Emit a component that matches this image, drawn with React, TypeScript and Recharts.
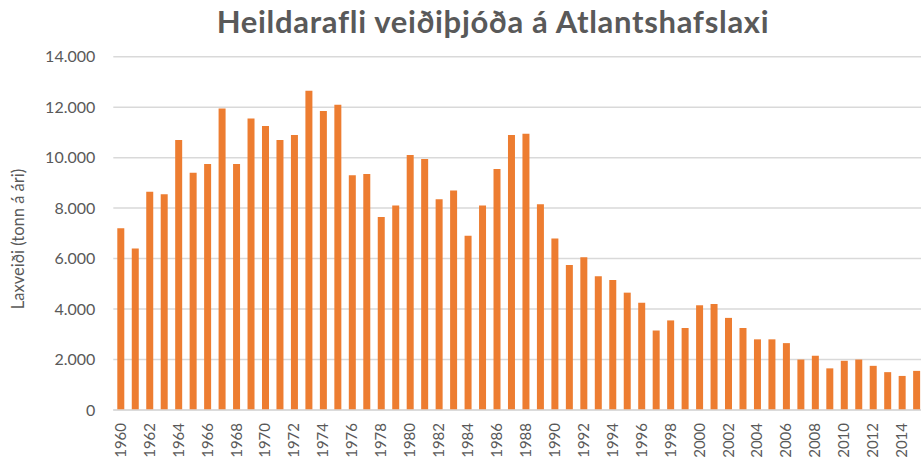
import React from 'react';
import { BarChart, Bar, XAxis, YAxis, CartesianGrid } from 'recharts';

const years: number[] = [
  1960, 1961, 1962, 1963, 1964, 1965, 1966, 1967, 1968, 1969,
  1970, 1971, 1972, 1973, 1974, 1975, 1976, 1977, 1978, 1979,
  1980, 1981, 1982, 1983, 1984, 1985, 1986, 1987, 1988, 1989,
  1990, 1991, 1992, 1993, 1994, 1995, 1996, 1997, 1998, 1999,
  2000, 2001, 2002, 2003, 2004, 2005, 2006, 2007, 2008, 2009,
  2010, 2011, 2012, 2013, 2014, 2015,
];

const catch_tonnes: number[] = [
  7200, 6400, 8650, 8550, 10700, 9400, 9750, 11950, 9750, 11550,
  11250, 10700, 10900, 12650, 11850, 12100, 9300, 9350, 7650, 8100,
  10100, 9950, 8350, 8700, 6900, 8100, 9550, 10900, 10950, 8150,
  6800, 5750, 6050, 5300, 5150, 4650, 4250, 3150, 3550, 3250,
  4150, 4200, 3650, 3250, 2800, 2800, 2650, 2000, 2150, 1650,
  1950, 2000, 1750, 1500, 1350, 1550,
];

const yTicks: number[] = [0, 2000, 4000, 6000, 8000, 10000, 12000, 14000];

const titleText = 'Heildarafli veiðiþjóða á Atlantshafslaxi';
const yLabelText = 'Laxveiði (tonn á ári)';

const data = years.map((y, i) => ({ year: String(y), value: catch_tonnes[i] }));

const fmt = (v: number) => String(v).replace(/\B(?=(\d{3})+(?!\d))/g, '.');

const FONT = 'Lato, "Open Sans", sans-serif';
const GREY = '#595959';

const XTick = (props: any) => {
  const { x, y, payload } = props;
  return (
    <g transform={`translate(${x},${y})`}>
      <text
        transform="rotate(-90)"
        x={-5}
        y={0}
        dy="0.35em"
        textAnchor="end"
        fill={GREY}
        fontSize={15}
        fontFamily={FONT}
      >
        {payload.value}
      </text>
    </g>
  );
};

export default function App() {
  return (
    <div style={{ position: 'absolute', left: 0, top: 0, width: 921, height: 464, overflow: 'hidden', background: '#fff' }}>
      <BarChart
        width={925}
        height={464}
        data={data}
        margin={{ top: 56.7, right: 1.4, bottom: 0, left: 0 }}
        barCategoryGap={0}
      >
        <CartesianGrid vertical={false} stroke="#d9d9d9" strokeWidth={1.5} />
        <XAxis
          dataKey="year"
          interval={1}
          tickLine={false}
          axisLine={{ stroke: '#d9d9d9', strokeWidth: 1.5 }}
          tick={<XTick />}
          height={54}
        />
        <YAxis
          width={113.3}
          domain={[0, 14000]}
          ticks={yTicks}
          tickFormatter={fmt}
          tickLine={false}
          axisLine={false}
          tickMargin={12}
          tick={{ fill: GREY, fontSize: 16, fontFamily: FONT }}
        />
        <Bar dataKey="value" fill="#ED7D31" barSize={7} isAnimationActive={false} />
      </BarChart>
      <svg width={921} height={464} style={{ position: 'absolute', left: 0, top: 0, pointerEvents: 'none' }}>
        <text x={493} y={33} textAnchor="middle" fontFamily={FONT} fontWeight={700} fontSize={31} letterSpacing={0.7} fill={GREY}>
          {titleText}
        </text>
        <text
          transform="translate(18,239) rotate(-90)"
          textAnchor="middle"
          dominantBaseline="central"
          fontFamily={FONT}
          fontSize={16.5}
          fill={GREY}
        >
          {yLabelText}
        </text>
      </svg>
    </div>
  );
}
